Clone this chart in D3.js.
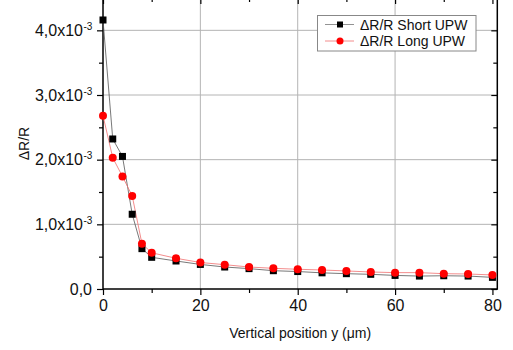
<!DOCTYPE html>
<html><head><meta charset="utf-8">
<script src="https://cdn.jsdelivr.net/npm/d3@7/dist/d3.min.js"></script>
<style>body{margin:0;background:#fff}svg{display:block}text{font-family:"Liberation Sans",Arial,sans-serif}</style>
</head><body>
<svg id="c" width="513" height="350"></svg>
<script>
const positions = [0,2,4,6,8,10,15,20,25,30,35,40,45,50,55,60,65,70,75,80];
const shortUPW = [4.16,2.32,2.05,1.156,0.624,0.49,0.433,0.38,0.34,0.315,0.283,0.27,0.25,0.237,0.227,0.21,0.2,0.205,0.2,0.18].map(v=>v*1e-3);
const longUPW  = [2.68,2.03,1.74,1.44,0.70,0.56,0.475,0.41,0.376,0.34,0.32,0.305,0.294,0.279,0.263,0.253,0.253,0.237,0.232,0.217].map(v=>v*1e-3);
const xTicks = [0,20,40,60,80];
const xMinor = [10,30,50,70];
const yTicks = [0,1e-3,2e-3,3e-3,4e-3];
const yMinor = [0.5e-3,1.5e-3,2.5e-3,3.5e-3];
const yTickMant = ["0,0","1,0x10","2,0x10","3,0x10","4,0x10"];
const seriesNames = ["\u0394R/R Short UPW","\u0394R/R Long UPW"];

(function(){
const svg = d3.select("#c");
const L=103, R=497.3, T=-2, B=289;
const x = d3.scaleLinear().domain([0,81]).range([L,R]);
const y = d3.scaleLinear().domain([0,4.5e-3]).range([B,T]);

// grid
const grid = svg.append("g").attr("stroke","#b4b4b4").attr("stroke-width",1);
xTicks.filter(v=>v>0&&v<80).forEach(v=>grid.append("line").attr("x1",x(v)).attr("x2",x(v)).attr("y1",T).attr("y2",B));
yTicks.filter(v=>v>0).forEach(v=>grid.append("line").attr("x1",L).attr("x2",R).attr("y1",y(v)).attr("y2",y(v)));

// axes
const ax = svg.append("g");
const gBottom = ax.append("g").attr("transform",`translate(0,${B})`)
  .call(d3.axisBottom(x).tickValues(xTicks).tickSize(6).tickPadding(5).tickFormat(d3.format("d")));
ax.append("g").attr("transform",`translate(0,${B})`)
  .call(d3.axisBottom(x).tickValues(xMinor).tickSize(4).tickFormat(""));
ax.append("g").attr("transform",`translate(0,${T})`)
  .call(d3.axisBottom(x).tickValues(xTicks).tickSize(6).tickFormat(""));
ax.append("g").attr("transform",`translate(0,${T})`)
  .call(d3.axisBottom(x).tickValues(xMinor).tickSize(4).tickFormat(""));
ax.append("g").attr("transform",`translate(${L},0)`)
  .call(d3.axisLeft(y).tickValues(yTicks).tickSize(6).tickFormat(""));
ax.append("g").attr("transform",`translate(${L},0)`)
  .call(d3.axisLeft(y).tickValues(yMinor).tickSize(4).tickFormat(""));
ax.append("g").attr("transform",`translate(${R},0)`)
  .call(d3.axisLeft(y).tickValues(yTicks).tickSize(6).tickFormat(""));
ax.append("g").attr("transform",`translate(${R},0)`)
  .call(d3.axisLeft(y).tickValues(yMinor).tickSize(4).tickFormat(""));
ax.selectAll(".tick line").attr("stroke","#000").attr("stroke-width",1.2);
gBottom.selectAll("text").attr("font-size",16).attr("fill","#111").attr("font-family","Liberation Sans, Arial, sans-serif");
ax.selectAll("path.domain").remove();
// frame
svg.append("rect").attr("x",L).attr("y",T).attr("width",R-L).attr("height",B-T)
  .attr("fill","none").attr("stroke","#000").attr("stroke-width",1.5);

// y tick labels
yTicks.forEach((v,i)=>{
  svg.append("text").attr("font-size",16).attr("fill","#111")
    .attr("x", i===0 ? 92 : 83).attr("y", y(v)+5.7).attr("text-anchor","end").text(yTickMant[i]);
  if(i>0){
    svg.append("text").attr("font-size",10).attr("fill","#111").attr("x",83.5).attr("y",y(v)-0.5).text("-3");
  }
});

// axis titles
svg.append("text").attr("x",(L+R)/2).attr("y",338).attr("text-anchor","middle").attr("font-size",14).attr("fill","#111")
  .text("Vertical position y (\u03bcm)");
svg.append("text").attr("transform",`translate(28.5,${(T+B)/2}) rotate(-90)`).attr("text-anchor","middle").attr("font-size",14).attr("fill","#111")
  .text("\u0394R/R");

// series
const line = d3.line().x((d,i)=>x(positions[i])).y(d=>y(d));
svg.append("path").datum(shortUPW).attr("d",line).attr("fill","none").attr("stroke","#555").attr("stroke-width",0.8);
svg.append("path").datum(longUPW).attr("d",line).attr("fill","none").attr("stroke","#f07070").attr("stroke-width",0.8);
svg.append("g").selectAll("rect").data(shortUPW).join("rect")
  .attr("x",(d,i)=>x(positions[i])-3.5).attr("y",d=>y(d)-3.5).attr("width",7).attr("height",7).attr("fill","#000");
svg.append("g").selectAll("circle").data(longUPW).join("circle")
  .attr("cx",(d,i)=>x(positions[i])).attr("cy",d=>y(d)).attr("r",4).attr("fill","#ff0000");

// legend
const lg = svg.append("g");
lg.append("rect").attr("x",317.5).attr("y",15.5).attr("width",158.5).attr("height",35.5)
  .attr("fill","#fff").attr("stroke","#888").attr("stroke-width",1);
const rows=[24.5,41];
lg.append("line").attr("x1",325).attr("x2",354).attr("y1",rows[0]).attr("y2",rows[0]).attr("stroke","#777").attr("stroke-width",0.8);
lg.append("rect").attr("x",337).attr("y",rows[0]-3).attr("width",6).attr("height",6).attr("fill","#000");
lg.append("line").attr("x1",325).attr("x2",354).attr("y1",rows[1]).attr("y2",rows[1]).attr("stroke","#f07070").attr("stroke-width",0.8);
lg.append("circle").attr("cx",340).attr("cy",rows[1]).attr("r",3.5).attr("fill","#ff0000");
seriesNames.forEach((n,i)=>lg.append("text").attr("x",360).attr("y",rows[i]+5).attr("font-size",14).attr("fill","#111").text(n));
})();
</script>
</body></html>
